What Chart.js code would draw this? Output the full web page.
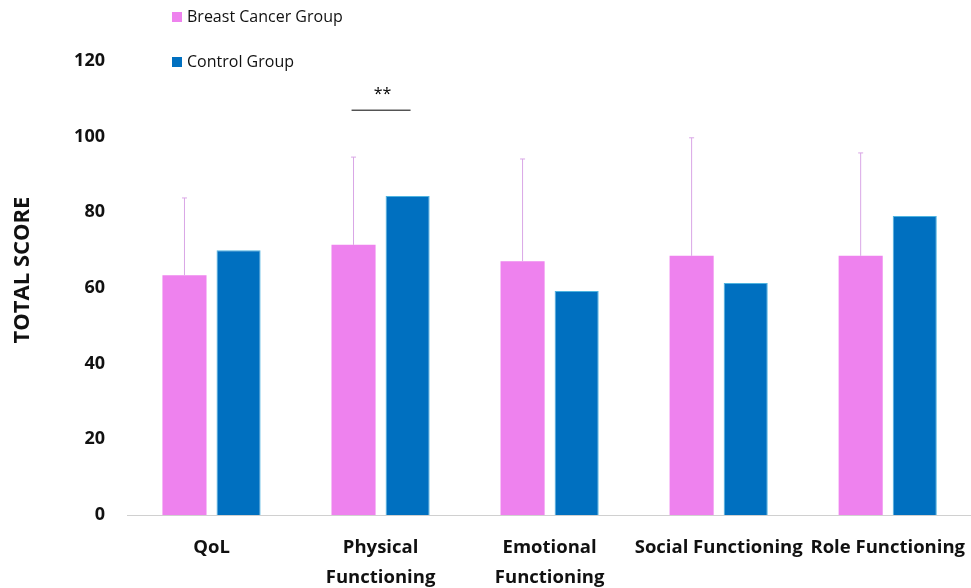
<!DOCTYPE html>
<html>
<head>
<meta charset="utf-8">
<script src="https://cdn.jsdelivr.net/npm/chart.js@4.4.0/dist/chart.umd.min.js"></script>
<style>
  html, body { margin: 0; background: #fff; overflow: hidden; }
  #wrap { width: 971px; height: 588px; overflow: hidden; }
</style>
</head>
<body>
<div id="wrap"><canvas id="barChart" width="975" height="588"></canvas></div>
<script>
const categories = ['QoL', ['Physical', 'Functioning'], ['Emotional', 'Functioning'], 'Social Functioning', 'Role Functioning'];
const cancer_values = [63.4, 71.4, 67.1, 68.5, 68.5];
const control_values = [70.0, 84.3, 59.2, 61.3, 79.0];
const cancer_upper = [83.8, 94.6, 94.1, 99.7, 95.7];
const y_ticks = [0, 20, 40, 60, 80, 100, 120];
const y_title = 'TOTAL SCORE';
const signif_index = 1;
const signif_value = 107;
const signif_label = '**';

const font_family = "'Open Sans', 'Noto Sans', sans-serif";

// error bars (upper only) for the pink series + significance mark
const errorBars = {
    id: 'errorBars',
    afterDatasetsDraw(chart) {
        const ctx = chart.ctx;
        const meta = chart.getDatasetMeta(0);
        const y = chart.scales.y;
        ctx.save();
        ctx.strokeStyle = '#d9a6e6';
        ctx.lineWidth = 1;
        meta.data.forEach((bar, i) => {
            const top = y.getPixelForValue(cancer_upper[i]);
            ctx.beginPath();
            ctx.moveTo(bar.x, bar.y);
            ctx.lineTo(bar.x, top);
            ctx.moveTo(bar.x - 2.5, top);
            ctx.lineTo(bar.x + 2.5, top);
            ctx.stroke();
        });
        const x = chart.scales.x;
        const cx = x.getPixelForValue(signif_index);
        const sy = y.getPixelForValue(signif_value);
        ctx.strokeStyle = '#000';
        ctx.beginPath();
        ctx.moveTo(cx - 29, sy);
        ctx.lineTo(cx + 30, sy);
        ctx.stroke();
        ctx.fillStyle = '#000';
        ctx.font = "16px " + font_family;
        ctx.textAlign = 'center';
        ctx.textBaseline = 'middle';
        ctx.fillText(signif_label, cx + 2, sy - 16);
        ctx.restore();
    }
};

// vertical legend top left, and the y title
const sideLegend = {
    id: 'sideLegend',
    afterDraw(chart) {
        const ctx = chart.ctx;
        ctx.save();
        ctx.font = "16px " + font_family;
        ctx.textBaseline = 'middle';
        chart.data.datasets.forEach((ds, i) => {
            const ly = 17 + i * 45;
            ctx.fillStyle = ds.backgroundColor;
            ctx.fillRect(172, ly - 5, 10, 10);
            ctx.fillStyle = '#111';
            ctx.fillText(ds.label, 187, ly);
        });
        ctx.translate(23, 270);
        ctx.rotate(-Math.PI / 2);
        ctx.font = "bold 22px " + font_family;
        ctx.textAlign = 'center';
        ctx.fillText(y_title, 0, 0);
        ctx.restore();
    }
};

const bar_config = {
    type: 'bar',
    data: {
        labels: categories,
        datasets: [
            {
                label: 'Breast Cancer Group',
                data: cancer_values,
                backgroundColor: '#EE82EE',
                categoryPercentage: 0.64,
                barPercentage: 0.815
            },
            {
                label: 'Control Group',
                data: control_values,
                backgroundColor: '#0070C0',
                borderColor: '#4fb4e0',
                borderWidth: { top: 1, left: 1, right: 1, bottom: 0 },
                categoryPercentage: 0.64,
                barPercentage: 0.815
            }
        ]
    },
    options: {
        responsive: false,
        animation: false,
        layout: { padding: { top: 61, right: 0, left: 0, bottom: 0 } },
        plugins: {
            legend: { display: false },
            tooltip: { enabled: false }
        },
        scales: {
            x: {
                grid: { display: false },
                border: { display: true, color: '#d0d0d0', width: 1 },
                ticks: {
                    color: '#111',
                    font: { family: font_family, size: 18.5, weight: 'bold', lineHeight: 1.6 },
                    padding: 10,
                    maxRotation: 0,
                    autoSkip: false
                },
                afterFit(scale) { scale.height = 73; }
            },
            y: {
                min: 0,
                max: 120,
                afterBuildTicks(scale) { scale.ticks = y_ticks.map(v => ({ value: v })); },
                grid: { display: false, drawTicks: false },
                border: { display: false },
                ticks: {
                    color: '#111',
                    font: { family: font_family, size: 18, weight: 'bold' },
                    padding: 22
                },
                afterFit(scale) { scale.width = 127; }
            }
        }
    },
    plugins: [errorBars, sideLegend]
};

const bar_ctx = document.getElementById('barChart').getContext('2d');
const barChart = new Chart(bar_ctx, bar_config);
</script>
</body>
</html>
